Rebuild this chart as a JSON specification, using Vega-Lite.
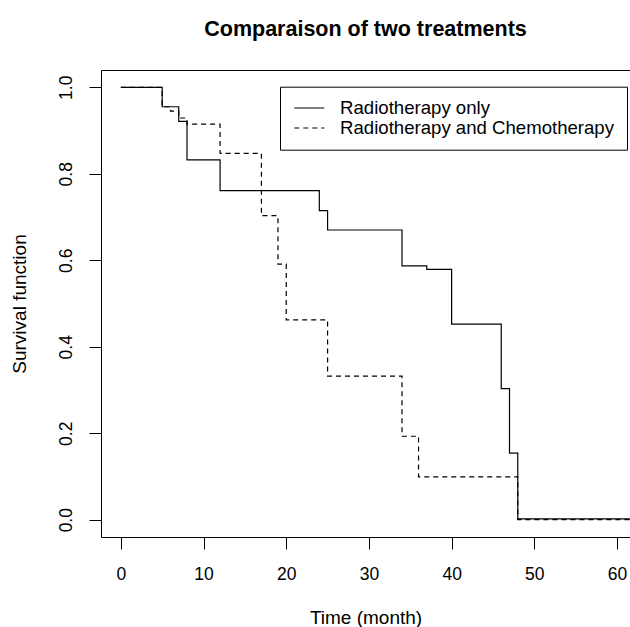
{
  "$schema": "https://vega.github.io/schema/vega-lite/v6.json",
  "autosize": {"type": "none"},
  "padding": {"left": 101, "top": 70, "right": 0, "bottom": 90},
  "width": 529,
  "height": 467,
  "background": "white",
  "config": {
    "view": {"stroke": null},
    "font": "Liberation Sans",
    "axis": {"grid": false, "domainColor": "black", "tickColor": "black", "labelColor": "black", "titleColor": "black", "labelFont": "Liberation Sans", "titleFont": "Liberation Sans", "titleFontWeight": "normal"}
  },
  "title": {"text": "Comparaison of two treatments", "fontSize": 21.5, "fontWeight": "bold", "font": "Liberation Sans", "color": "black", "anchor": "middle", "offset": 30},
  "data": {"values": [
    {"t": 0, "s": 1, "g": "Radiotherapy only"},
    {"t": 5, "s": 0.955, "g": "Radiotherapy only"},
    {"t": 7, "s": 0.921, "g": "Radiotherapy only"},
    {"t": 8, "s": 0.832, "g": "Radiotherapy only"},
    {"t": 12, "s": 0.761, "g": "Radiotherapy only"},
    {"t": 24, "s": 0.715, "g": "Radiotherapy only"},
    {"t": 25, "s": 0.670, "g": "Radiotherapy only"},
    {"t": 34, "s": 0.587, "g": "Radiotherapy only"},
    {"t": 37, "s": 0.579, "g": "Radiotherapy only"},
    {"t": 40, "s": 0.4525, "g": "Radiotherapy only"},
    {"t": 46, "s": 0.303, "g": "Radiotherapy only"},
    {"t": 47, "s": 0.154, "g": "Radiotherapy only"},
    {"t": 48, "s": 0.002, "g": "Radiotherapy only"},
    {"t": 62, "s": 0.002, "g": "Radiotherapy only"},
    {"t": 0, "s": 1, "g": "Radiotherapy and Chemotherapy"},
    {"t": 5, "s": 0.955, "g": "Radiotherapy and Chemotherapy"},
    {"t": 6, "s": 0.945, "g": "Radiotherapy and Chemotherapy"},
    {"t": 7, "s": 0.929, "g": "Radiotherapy and Chemotherapy"},
    {"t": 8, "s": 0.915, "g": "Radiotherapy and Chemotherapy"},
    {"t": 12, "s": 0.847, "g": "Radiotherapy and Chemotherapy"},
    {"t": 17, "s": 0.703, "g": "Radiotherapy and Chemotherapy"},
    {"t": 19, "s": 0.591, "g": "Radiotherapy and Chemotherapy"},
    {"t": 20, "s": 0.462, "g": "Radiotherapy and Chemotherapy"},
    {"t": 25, "s": 0.332, "g": "Radiotherapy and Chemotherapy"},
    {"t": 34, "s": 0.193, "g": "Radiotherapy and Chemotherapy"},
    {"t": 36, "s": 0.099, "g": "Radiotherapy and Chemotherapy"},
    {"t": 48, "s": 0, "g": "Radiotherapy and Chemotherapy"},
    {"t": 62, "s": 0, "g": "Radiotherapy and Chemotherapy"}
  ]},
  "layer": [
    {
      "mark": {"type": "line", "interpolate": "step-after", "color": "black", "strokeWidth": 1.2, "clip": true},
      "encoding": {
        "x": {"field": "t", "type": "quantitative", "scale": {"domain": [-2.4, 61.57], "nice": false, "zero": false},
              "axis": {"orient": "bottom", "values": [0, 10, 20, 30, 40, 50, 60], "tickSize": 12, "labelFontSize": 17.5, "labelPadding": 16, "title": "Time (month)", "titleFontSize": 19, "titlePadding": 26}},
        "y": {"field": "s", "type": "quantitative", "scale": {"domain": [-0.04, 1.04], "nice": false, "zero": false},
              "axis": {"values": [0, 0.2, 0.4, 0.6, 0.8, 1.0], "format": ".1f", "tickSize": 12, "labelFontSize": 17.5, "labelAngle": 270, "labelAlign": "center", "labelBaseline": "bottom", "labelPadding": 14, "title": "Survival function", "titleFontSize": 19, "titlePadding": 28}},
        "strokeDash": {"field": "g", "type": "nominal",
                       "scale": {"domain": ["Radiotherapy only", "Radiotherapy and Chemotherapy"], "range": [[1, 0], [5, 4]]},
                       "legend": {"orient": "none", "legendX": 179, "legendY": 16.7, "title": null, "symbolType": "M-3,0H3", "symbolSize": 100, "symbolOffset": 8, "symbolStrokeWidth": 1.2, "symbolStrokeColor": "black", "labelFontSize": 18.6, "labelFont": "Liberation Sans", "labelColor": "black", "labelOffset": 21.5, "labelLimit": 600, "strokeColor": "black", "fillColor": "white", "padding": 12, "rowPadding": 1}}
      }
    },
    {
      "mark": {"type": "rule", "opacity": 0},
      "encoding": {
        "x": {"datum": 0, "type": "quantitative", "axis": {"orient": "top", "labels": false, "ticks": false, "title": null, "domain": true}}
      }
    }
  ],
  "resolve": {"axis": {"x": "independent"}}
}
